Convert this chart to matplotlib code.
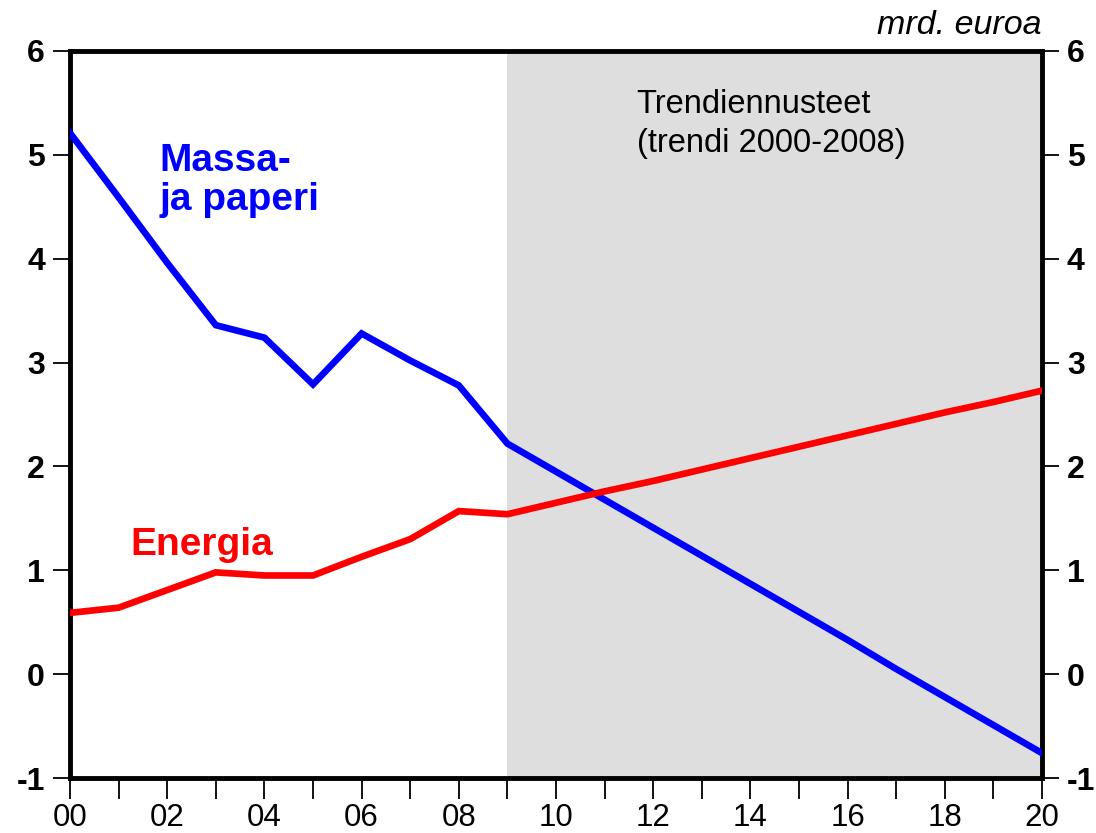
import matplotlib
matplotlib.use("Agg")
import matplotlib.pyplot as plt

# vuodet ja sarjat (mrd. euroa)
years = list(range(2000, 2021))
massa_paperi = [5.21, 4.59, 3.96, 3.36, 3.24, 2.79, 3.28, 3.02, 2.78, 2.22,
                1.95, 1.68, 1.41, 1.14, 0.87, 0.60, 0.33, 0.05, -0.22, -0.49, -0.76]
energia = [0.59, 0.64, 0.81, 0.98, 0.95, 0.95, 1.13, 1.30, 1.57, 1.54,
           1.65, 1.76, 1.86, 1.97, 2.08, 2.19, 2.30, 2.41, 2.52, 2.62, 2.73]
trend_start = 2009
xtick_labels = ["00", "02", "04", "06", "08", "10", "12", "14", "16", "18", "20"]
yticks = [-1, 0, 1, 2, 3, 4, 5, 6]

plt.rcParams['font.family'] = ['Liberation Sans', 'DejaVu Sans']

fig = plt.figure(figsize=(10.96, 8.33), dpi=100)
ax = fig.add_axes([0.0639, 0.066, 0.8868, 0.8728])

ax.axvspan(trend_start, years[-1], color="#dedede", lw=0, zorder=0)
ax.plot(years, massa_paperi, color="#0000ff", lw=4.8, solid_joinstyle="miter", zorder=3)
ax.plot(years, energia, color="#ff0000", lw=4.8, solid_joinstyle="miter", zorder=3)

ax.set_xlim(years[0], years[-1])
ax.set_ylim(-1, 6)
ax.set_xticks(years, minor=True)
ax.set_xticks(years[::2])
ax.set_xticklabels(xtick_labels, fontsize=22.5)
ax.set_yticks(yticks)
ax.set_yticklabels([str(v) for v in yticks], fontsize=23, fontweight="bold")
ax.tick_params(axis="x", which="both", direction="out", length=15, width=1.3, pad=3)
ax.tick_params(axis="y", which="both", direction="out", length=12, width=1.3, pad=6,
               right=True, labelright=True)

for s in ax.spines.values():
    s.set_linewidth(3.5)

ax.text(0.583, 0.948, "Trendiennusteet\n(trendi 2000-2008)", transform=ax.transAxes,
        fontsize=23.5, va="top", ha="left", linespacing=1.35)
ax.text(0.092, 0.873, "Massa-\nja paperi", transform=ax.transAxes, color="#0000ff",
        fontsize=28, fontweight="bold", va="top", ha="left", linespacing=1.1)
ax.text(0.062, 0.307, "Energia", transform=ax.transAxes, color="#ff0000",
        fontsize=28, fontweight="bold", va="baseline", ha="left")
ax.text(1.0, 1.014, "mrd. euroa", transform=ax.transAxes, fontsize=24.5,
        style="italic", ha="right", va="bottom")

plt.savefig("out.png", dpi=100)
plt.close()
